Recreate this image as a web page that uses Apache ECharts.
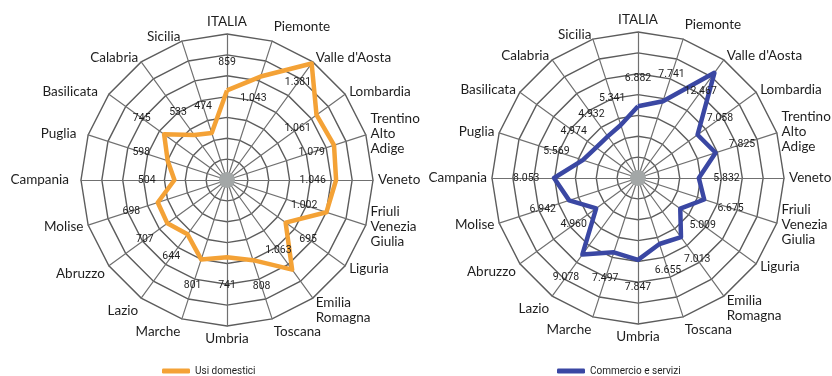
<!DOCTYPE html>
<html>
<head>
<meta charset="utf-8">
<script src="https://cdn.jsdelivr.net/npm/echarts@6/dist/echarts.min.js"></script>
<style>
  html, body { margin: 0; background: #fff; }
  #chart { width: 832px; height: 376px; }
</style>
</head>
<body>
<div id="chart"></div>
<script>
// regions, clockwise from the top
const regions = ['ITALIA', 'Piemonte', "Valle d'Aosta", 'Lombardia', 'Trentino\nAlto\nAdige', 'Veneto',
  'Friuli\nVenezia\nGiulia', 'Liguria', 'Emilia\nRomagna', 'Toscana', 'Umbria', 'Marche', 'Lazio',
  'Abruzzo', 'Molise', 'Campania', 'Puglia', 'Basilicata', 'Calabria', 'Sicilia'];

const usiDomestici = [859, 1043, 1381, 1061, 1079, 1046, 1002, 695, 1063, 808,
  741, 801, 644, 707, 698, 504, 598, 745, 533, 474];

const commercioServizi = [6882, 7741, 12467, 7058, 7825, 5832, 6675, 5009, 7013, 6655,
  7847, 7497, 9078, 4960, 6942, 8053, 5569, 4974, 4932, 5341];

const maxDomestici = 1400;
const maxCommercio = 14000;

const ORANGE = '#f4a236';
const BLUE = '#3a47a3';
const TEXT = '#1e1e1e';
const NAME_FONT = 'Lato';
const SMALL_FONT = "'Liberation Sans Narrow', Roboto, sans-serif";
const RADIUS = 146;
const LEFT_CENTER = [227, 180];
const RIGHT_CENTER = [638, 178];

// echarts lays indicators out counter-clockwise, so flip the order (ITALIA stays on top)
const order = regions.map((_, i) => (regions.length - i) % regions.length);
const pick = (arr) => order.map((i) => arr[i]);

const fmt = (n) => String(n).replace(/\B(?=(\d{3})+(?!\d))/g, '.');

// the printed names sit a little off the plain layout, nudge a few of them
const nameStyle = (padding) => ({ fontSize: 13.5, fontFamily: NAME_FONT, color: TEXT, lineHeight: 15, padding });
function nameFormatter(leftPad) {
  return (name) => {
    if (name === 'Emilia\nRomagna') return ' \n' + name;
    if (name === 'Piemonte') return '{up|' + name + '}';
    if (['Marche', 'Toscana', 'Lazio'].includes(name)) return '{down|' + name + '}';
    if (name === 'Abruzzo') return '{downS|' + name + '}';
    if (leftPad && ['Basilicata', 'Puglia', 'Campania'].includes(name)) return '{left|' + name + '}';
    return name;
  };
}

function radarOf(center, max, leftPad) {
  return {
    center: center,
    radius: RADIUS,
    startAngle: 90,
    shape: 'polygon',
    splitNumber: 7,
    indicator: pick(regions).map((name) => ({ name, min: 0, max })),
    nameGap: 5,
    axisName: {
      color: TEXT,
      fontSize: 13.5,
      fontFamily: NAME_FONT,
      lineHeight: 15,
      formatter: nameFormatter(leftPad),
      rich: {
        up: nameStyle([0, 0, 20, 0]),
        down: nameStyle([17, 0, 0, 0]),
        downS: nameStyle([10, 0, 0, 0]),
        left: nameStyle([0, 7, 0, 0]),
      },
    },
    axisLine: { lineStyle: { color: '#707070', width: 1.2 } },
    splitLine: { lineStyle: { color: '#5c5c5c', width: 1.4 } },
    splitArea: { show: false },
    axisTick: { show: false },
    axisLabel: { show: false },
  };
}

// invisible polygon only used to place the value labels a bit off the line
function labelSeries(values, max, radarIndex) {
  const pos = values.map((v) => (v + max * 0.19 <= max * 0.9 ? v + max * 0.19 : v - max * 0.16));
  const text = new Map(pos.map((p, i) => [p, fmt(values[i])]));
  return {
    type: 'radar',
    radarIndex: radarIndex,
    silent: true,
    symbol: 'circle',
    symbolSize: 1,
    itemStyle: { color: 'rgba(0,0,0,0)' },
    lineStyle: { width: 0, opacity: 0 },
    label: {
      show: true,
      position: 'inside',
      color: TEXT,
      fontSize: 10.5,
      fontFamily: SMALL_FONT,
      formatter: (p) => text.get(p.value),
    },
    data: [{ value: pick(pos) }],
    z: 5,
  };
}

function mainSeries(name, values, color, radarIndex) {
  return {
    type: 'radar',
    radarIndex: radarIndex,
    symbol: 'none',
    itemStyle: { color: color },
    lineStyle: { color: color, width: 4.5, join: 'round' },
    data: [{ name: name, value: pick(values) }],
    z: 4,
  };
}

const legendBase = {
  icon: 'roundRect',
  itemWidth: 28,
  itemHeight: 5,
  itemGap: 0,
  top: 361,
  textStyle: { fontSize: 10, color: TEXT, fontFamily: SMALL_FONT },
};

const chart = echarts.init(document.getElementById('chart'));

chart.setOption({
  animation: false,
  legend: [
    Object.assign({ data: ['Usi domestici'], left: 157 }, legendBase),
    Object.assign({ data: ['Commercio e servizi'], left: 552 }, legendBase),
  ],
  radar: [radarOf(LEFT_CENTER, maxDomestici, true), radarOf(RIGHT_CENTER, maxCommercio, false)],
  series: [
    mainSeries('Usi domestici', usiDomestici, ORANGE, 0),
    mainSeries('Commercio e servizi', commercioServizi, BLUE, 1),
    labelSeries(usiDomestici, maxDomestici, 0),
    labelSeries(commercioServizi, maxCommercio, 1),
  ],
  graphic: [LEFT_CENTER, RIGHT_CENTER].map((c) => ({
    type: 'circle',
    shape: { cx: c[0], cy: c[1], r: 8 },
    style: { fill: '#a3a7a7' },
    z: 10,
  })),
});

window.addEventListener('resize', () => chart.resize());
</script>
</body>
</html>
